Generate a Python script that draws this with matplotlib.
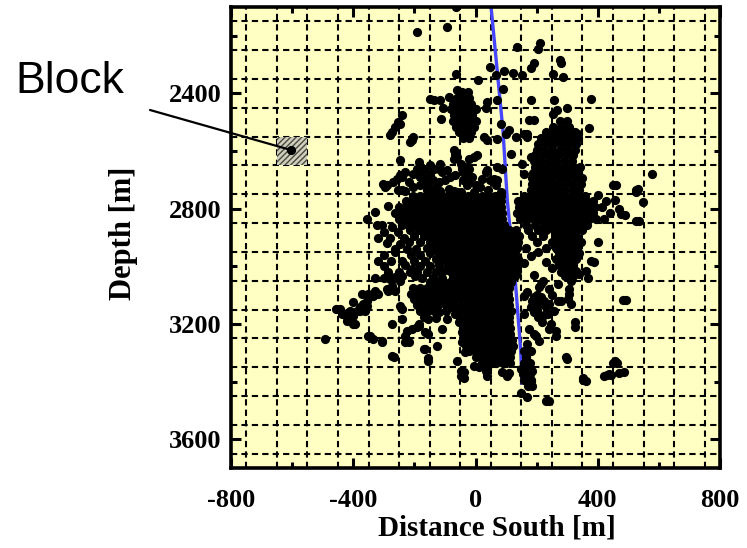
import matplotlib
matplotlib.use("Agg")
import matplotlib.pyplot as plt
from matplotlib.patches import Rectangle

# ---- data (x = distance south [m], depth [m]) ----
well_x = [50, 90, 104, 131, 147, 153]
well_depth = [2090, 2530, 2770, 3060, 3280, 3405]

block_x = [-650, -550]
block_depth = [2550, 2650]
block_event = (-605, 2596)

# dense parts, one row per depth: (depth, [x, ...])
northwest_rows = [
    (2395, [-45, -25]),
    (2415, [-62, -40, -20]),
    (2435, [-75, -55, -35, -15]),
    (2455, [-80, -58, -38, -18, 0]),
    (2475, [-70, -50, -30, -10]),
    (2495, [-75, -55, -35, -15, 3]),
    (2515, [-65, -45, -25, -5]),
    (2535, [-55, -35, -15]),
    (2555, [-42, -22]),
]

east_rows = [
    (2495, [275, 300]),
    (2515, [255, 280, 305]),
    (2535, [232, 256, 280, 304, 326]),
    (2555, [215, 240, 265, 290, 315, 336]),
    (2575, [205, 230, 255, 280, 305, 330]),
    (2595, [200, 225, 250, 275, 300, 325]),
    (2615, [195, 220, 245, 270, 295, 320]),
    (2635, [190, 215, 240, 265, 290, 315]),
    (2655, [195, 220, 245, 270, 295, 320, 342]),
    (2675, [188, 210, 235, 260, 285, 310, 335]),
    (2695, [185, 205, 228, 250, 275, 300, 325, 350]),
    (2715, [185, 205, 225, 248, 270, 295, 320, 345]),
    (2735, [180, 200, 222, 245, 268, 290, 315, 340]),
    (2755, [160, 185, 208, 233, 258, 283, 308, 333, 358]),
    (2775, [138, 160, 182, 205, 228, 250, 272, 295, 318, 340, 362, 385, 428]),
    (2795, [142, 165, 188, 210, 232, 255, 278, 300, 322, 345, 368, 392, 415]),
    (2815, [136, 158, 180, 204, 226, 250, 272, 295, 318, 340, 362, 385, 440]),
    (2835, [145, 168, 190, 212, 235, 258, 280, 302, 325, 348, 370, 395, 420]),
    (2855, [165, 195, 225, 250, 272, 295, 318, 340, 365]),
    (2875, [172, 205, 232, 258, 280, 302, 325, 350]),
    (2895, [185, 222, 262, 285, 308, 330]),
    (2915, [200, 250, 275, 298, 320, 345, 400]),
    (2935, [165, 232, 265, 288, 310, 332]),
    (2955, [272, 295, 318, 340]),
    (2975, [262, 285, 308, 330]),
    (2995, [272, 295, 318]),
    (3015, [282, 305, 330, 362]),
    (3035, [292, 320]),
]

core_rows = [
    (2755, [-205, -182, -160, -138, -115, -92, -70, -48, -25, -3, 20, 42, 64, 84]),
    (2775, [-228, -205, -182, -160, -138, -115, -92, -70, -48, -25, -3, 20, 42, 64, 84]),
    (2795, [-250, -228, -205, -182, -160, -138, -115, -92, -70, -48, -25, -3, 20, 42, 64, 85]),
    (2815, [-262, -240, -218, -195, -172, -150, -128, -105, -82, -60, -38, -15, 8, 30, 52, 72, 88]),
    (2835, [-250, -228, -205, -182, -160, -138, -115, -92, -70, -48, -25, -3, 20, 42, 64, 86]),
    (2855, [-240, -218, -195, -172, -150, -128, -105, -82, -60, -38, -15, 8, 30, 52, 75, 92]),
    (2875, [-215, -185, -160, -138, -115, -92, -70, -48, -25, -3, 20, 42, 65, 88, 110, 132]),
    (2895, [-200, -170, -145, -122, -100, -78, -55, -32, -10, 12, 35, 58, 80, 102, 125, 142]),
    (2915, [-180, -150, -128, -105, -82, -60, -38, -15, 8, 30, 52, 75, 98, 120, 140]),
    (2935, [-160, -135, -112, -90, -68, -45, -22, 0, 22, 45, 68, 90, 112, 135]),
    (2955, [-120, -98, -75, -52, -30, -8, 15, 38, 60, 82, 105, 128]),
    (2975, [-102, -80, -58, -35, -12, 10, 32, 55, 78, 100, 122, 140]),
    (2995, [-90, -68, -45, -22, 0, 22, 45, 68, 90, 112, 132]),
    (3015, [-82, -60, -38, -15, 8, 30, 52, 75, 98, 120, 135]),
    (3035, [-75, -52, -30, -8, 15, 38, 60, 82, 105, 128]),
]

south_rows = [
    (3055, [-150, -128, -105, -82, -60, -38, -15, 8, 30, 52, 75, 98, 115]),
    (3075, [-205, -182, -160, -138, -115, -92, -70, -48, -25, -3, 20, 42, 65, 88, 110]),
    (3095, [-210, -188, -165, -142, -120, -98, -75, -52, -30, -8, 15, 38, 60, 82, 105]),
    (3115, [-200, -178, -155, -132, -110, -88, -65, -42, -20, 2, 25, 48, 70, 92, 110]),
    (3135, [-190, -168, -145, -122, -95, -70, -45, -22, 0, 22, 45, 68, 90, 110]),
    (3155, [-160, -135, -60, -38, -15, 8, 30, 52, 75, 98, 115]),
    (3175, [-50, -28, -5, 18, 40, 62, 85, 108]),
    (3195, [-45, -22, 0, 22, 45, 68, 90, 110]),
    (3215, [-40, -18, 5, 28, 50, 72, 95, 112]),
    (3235, [-40, -18, 5, 28, 50, 72, 95, 112]),
    (3255, [-35, -12, 10, 32, 55, 78, 100, 118]),
    (3275, [-30, -8, 15, 38, 60, 82, 105, 122]),
    (3295, [-20, 2, 25, 48, 70, 92, 115, 160]),
    (3315, [0, 22, 45, 68, 90, 112, 165]),
    (3335, [22, 45, 68, 90, 112, 160, 178]),
    (3355, [150, 172]),
    (3375, [155, 178]),
    (3395, [160, 182]),
    (3415, [172]),
]

# scattered events
north_scatter = [
    (-65, 2100), (-93, 2171), (-190, 2188), (-64, 2332), (8, 2354),
    (-60, 2389), (-88, 2414), (-137, 2423), (-150, 2420), (-115, 2423),
    (-106, 2452), (-112, 2487), (-241, 2476), (-246, 2505), (-253, 2499),
    (-263, 2516), (-274, 2534), (-280, 2545), (-203, 2551), (-208, 2560),
    (-214, 2568), (135, 2238), (210, 2224), (203, 2247), (275, 2284),
    (280, 2296), (192, 2296), (181, 2313), (49, 2308), (66, 2337),
    (93, 2323), (124, 2328), (153, 2337), (255, 2333), (285, 2342),
    (90, 2385), (38, 2429), (33, 2452), (71, 2423), (180, 2423),
    (258, 2423), (378, 2418), (299, 2449), (252, 2470), (266, 2458),
    (192, 2491), (175, 2493), (82, 2505), (373, 2520), (334, 2540),
    (170, 2540), (132, 2551), (99, 2540), (27, 2551), (38, 2563),
    (71, 2557), (110, 2528), (159, 2540),
]

middle_scatter = [
    (-302, 2713), (-290, 2719), (-269, 2708), (-247, 2684), (-241, 2736),
    (-258, 2696), (-252, 2736), (-296, 2725), (-230, 2673), (-241, 2690),
    (-247, 2632), (-203, 2678), (-181, 2673), (-170, 2661), (-148, 2650),
    (-115, 2644), (-186, 2638), (-170, 2667), (-181, 2690), (-137, 2661),
    (-148, 2684), (-71, 2597), (-66, 2609), (-60, 2621), (-71, 2626),
    (-49, 2644), (-27, 2655), (-22, 2626), (-5, 2621), (5, 2615),
    (-22, 2661), (16, 2725), (38, 2667), (71, 2655), (88, 2661),
    (71, 2702), (115, 2609), (153, 2644), (159, 2678), (181, 2621),
    (170, 2551), (-126, 2713), (-82, 2690), (-115, 2740), (-159, 2736),
    (-71, 2740), (-49, 2742), (-5, 2742), (-27, 2719), (-88, 2731),
    (-120, 2708), (-120, 2661), (-110, 2673), (-93, 2667), (-66, 2684),
    (-60, 2742), (-22, 2708), (0, 2719), (22, 2696), (33, 2673),
    (49, 2702), (60, 2696), (66, 2719), (82, 2742), (-44, 2661),
    (-33, 2678), (-219, 2708), (-192, 2661), (-164, 2696), (-181, 2719),
    (-205, 2725), (-160, 2718), (-140, 2730), (-100, 2700), (-40, 2700),
    (-10, 2690), (-230, 2740), (40, 2735), (-140, 2700),
]

west_scatter = [
    (-329, 2812), (-356, 2835), (-307, 2858), (-274, 2864), (-322, 2858),
    (-285, 2790), (-300, 2880), (-255, 2880), (-320, 2900), (-280, 2900),
    (-235, 2900), (-247, 2922), (-219, 2916), (-290, 2920), (-265, 2940),
    (-225, 2940), (-195, 2940), (-300, 2960), (-263, 2951), (-210, 2960),
    (-180, 2960), (-150, 2955), (-320, 2980), (-275, 2980), (-240, 2980),
    (-200, 2980), (-165, 2980), (-130, 2975), (-300, 3000), (-230, 2997),
    (-208, 3009), (-180, 3000), (-150, 3000), (-120, 2995), (-285, 3020),
    (-250, 3020), (-215, 3020), (-190, 3020), (-160, 3020), (-130, 3020),
    (-105, 3015), (-330, 3040), (-300, 3040), (-268, 3040), (-241, 3032),
    (-197, 3032), (-175, 3040), (-140, 3040), (-110, 3040),
]

southwest_scatter = [
    (-493, 3252), (-455, 3148), (-444, 3148), (-438, 3166), (-428, 3166),
    (-422, 3177), (-422, 3189), (-400, 3200), (-395, 3200), (-400, 3171),
    (-411, 3154), (-400, 3125), (-389, 3154), (-378, 3142), (-378, 3154),
    (-373, 3096), (-367, 3131), (-362, 3154), (-356, 3119), (-356, 3137),
    (-351, 3096), (-340, 3102), (-334, 3102), (-329, 3084), (-318, 3096),
    (-345, 3241), (-351, 3241), (-334, 3252), (-307, 3258), (-307, 3264),
    (-274, 3310), (-268, 3314), (-290, 3078), (-285, 3084), (-274, 3067),
    (-280, 3044), (-263, 3038), (-263, 3084), (-247, 3050), (-247, 3137),
    (-241, 3148), (-274, 3200), (-230, 3241), (-219, 3264), (-225, 3223),
    (-208, 3218), (-192, 3212), (-186, 3200), (-170, 3177), (-181, 3154),
    (-159, 3154), (-148, 3137), (-154, 3235), (-168, 3287), (-126, 3276),
    (-154, 3318), (-154, 3328), (-241, 3183), (-186, 3206), (-154, 3183),
    (-164, 3229), (-110, 3218), (-93, 3183), (-66, 3166), (-55, 3195),
    (-44, 3229), (-230, 3264), (-164, 3287), (-44, 3264), (-33, 3299),
    (-38, 3368), (-38, 3386), (11, 3351), (44, 3339), (38, 3380),
    (88, 3368), (104, 3380), (110, 3371), (-49, 3380), (-49, 3363),
    (33, 3363), (-5, 3345), (-60, 3328), (-120, 3160), (-95, 3155),
    (-80, 3140), (-130, 3180),
]

southeast_scatter = [
    (159, 3102), (192, 3108), (225, 3119), (208, 3131), (181, 3142),
    (159, 3166), (203, 3177), (236, 3166), (258, 3154), (247, 3200),
    (263, 3223), (192, 3235), (208, 3258), (170, 3270), (181, 3293),
    (164, 3316), (170, 3339), (186, 3362), (181, 3397), (175, 3218),
    (197, 3241), (219, 3195), (241, 3218), (263, 3241), (296, 3316),
    (269, 3119), (302, 3113), (307, 3078), (241, 3078), (208, 3073),
    (214, 3061), (269, 3061), (312, 3050), (306, 3096), (312, 3131),
    (280, 3120), (325, 3195), (325, 3212), (280, 3020), (310, 3030),
    (340, 3025), (368, 3040), (378, 2980), (190, 3030), (220, 3050),
    (170, 3090), (200, 3100), (230, 3140), (190, 3160), (185, 3120),
    (215, 3105), (240, 3130), (250, 3100), (200, 3150), (225, 3170),
    (160, 2990), (180, 2965), (205, 2950), (230, 2985), (250, 3005),
]

far_scatter = [
    (450, 2719), (460, 2719), (526, 2734), (532, 2731), (526, 2742),
    (548, 2777), (576, 2681), (477, 2818), (488, 2823), (526, 2841),
    (536, 2841), (455, 2770), (470, 2800), (482, 3117), (491, 3117),
    (450, 3337), (455, 3328), (464, 3334), (422, 3380), (431, 3378),
    (438, 3374), (444, 3378), (471, 3372), (486, 3368), (351, 3386),
    (351, 3395), (362, 3397), (230, 3469), (241, 3467), (170, 3455),
    (148, 3438), (186, 3415), (299, 3320), (388, 2986), (400, 2754),
]


def expand(rows):
    return [(x, d) for d, xs in rows for x in xs]


events = (expand(northwest_rows) + expand(east_rows) + expand(core_rows)
          + expand(south_rows) + north_scatter + middle_scatter
          + west_scatter + southwest_scatter + southeast_scatter
          + far_scatter)
ev_x = [p[0] for p in events]
ev_d = [p[1] for p in events]

# ---- figure ----
plt.rcParams["axes.unicode_minus"] = False
plt.rcParams["hatch.linewidth"] = 1.0
serif = ["Liberation Serif", "DejaVu Serif"]

fig = plt.figure(figsize=(7.47, 5.48), dpi=100)
ax = fig.add_axes([231 / 747, 1 - 468 / 548, 489 / 747, 461 / 548])
ax.set_facecolor("#ffffc4")

ax.set_xlim(-800, 800)
ax.set_ylim(3700, 2100)

# dashed grid every 100 m, offset by 50 m
for g in range(-750, 800, 100):
    ax.axvline(g, color="black", lw=1.5, ls=(0, (3, 2)), zorder=1)
for g in range(2150, 3700, 100):
    ax.axhline(g, color="black", lw=1.5, ls=(0, (3, 2)), zorder=1)

ax.plot(well_x, well_depth, color="#4646ff", lw=2.4, zorder=2)

ax.add_patch(Rectangle((block_x[0], block_depth[0]),
                       block_x[1] - block_x[0], block_depth[1] - block_depth[0],
                       facecolor="#cfcfbc", edgecolor="#4a4a40", hatch="//////",
                       lw=0, zorder=2))

ax.scatter(ev_x, ev_d, s=44, color="black", linewidths=0, zorder=3)
ax.scatter([block_event[0]], [block_event[1]], s=44, color="black",
           linewidths=0, zorder=3)

ax.set_xticks([-800, -400, 0, 400, 800])
ax.set_xticks([-600, -200, 200, 600], minor=True)
ax.set_yticks([2400, 2800, 3200, 3600])
ax.set_yticks([2200, 2600, 3000, 3400], minor=True)
ax.tick_params(which="both", direction="in", top=True, right=True,
               width=2.2, color="black")
ax.tick_params(which="major", length=7)
ax.tick_params(which="minor", length=4)
ax.tick_params(axis="x", which="major", pad=15)
ax.tick_params(axis="y", which="major", pad=7)
for lab in ax.get_xticklabels() + ax.get_yticklabels():
    lab.set_fontfamily(serif)
    lab.set_fontweight("bold")
    lab.set_fontsize(19)

for sp in ax.spines.values():
    sp.set_linewidth(2.6)

ax.set_xlabel("Distance South [m]", family=serif, weight="bold", fontsize=21)
ax.xaxis.set_label_coords(0.543, -0.1)
ax.set_ylabel("Depth [m]", family=serif, weight="bold", fontsize=22)
ax.yaxis.set_label_coords(-0.19, 0.51)

fig.text(15 / 747, 1 - 93 / 548, "Block", family=["Liberation Sans", "DejaVu Sans"],
         fontsize=32, ha="left", va="baseline")
ax.annotate("", xy=block_event, xytext=(150, 548 - 110),
            textcoords="figure pixels",
            arrowprops=dict(arrowstyle="-", lw=1.6, color="black",
                            shrinkA=0, shrinkB=0),
            annotation_clip=False)

fig.savefig("out.png", dpi=100)
